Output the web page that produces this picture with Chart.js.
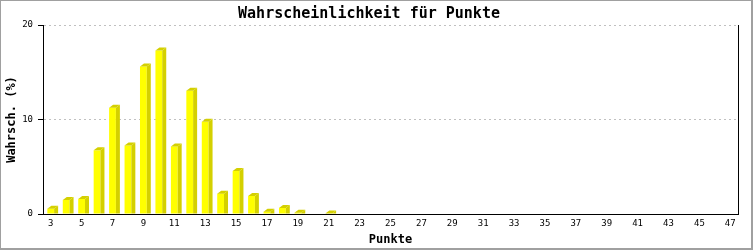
<!DOCTYPE html>
<html>
<head>
<meta charset="utf-8">
<script src="https://cdn.jsdelivr.net/npm/chart.js@4"></script>
<style>
  body { margin: 0; background: #fff; }
  canvas { display: block; }
</style>
</head>
<body>
<canvas id="pointsChart" width="753" height="250"></canvas>
<script>
// categories: points 3..47
var points = [3, 4, 5, 6, 7, 8, 9, 10, 11, 12, 13, 14, 15, 16, 17, 18, 19, 20, 21, 22, 23, 24, 25,
              26, 27, 28, 29, 30, 31, 32, 33, 34, 35, 36, 37, 38, 39, 40, 41, 42, 43, 44, 45, 46, 47];

// probability in percent
var probability = [0.56, 1.48, 1.59, 6.74, 11.24, 7.25, 15.6, 17.3, 7.15, 13.05, 9.75, 2.15, 4.56, 1.91,
                   0.25, 0.64, 0.13, 0, 0.05, 0, 0, 0, 0, 0, 0, 0, 0, 0, 0, 0, 0, 0, 0, 0, 0, 0, 0, 0,
                   0, 0, 0, 0, 0, 0, 0];

var yTicks = [0, 10, 20];

var monoFont = "'DejaVu Sans Mono', 'Liberation Mono', monospace";

// draws the darker side and top of every bar, plus frame and right border
var bars3d = {
    id: 'bars3d',
    beforeDraw: function (chart) {
        var c = chart.ctx;
        c.save();
        c.fillStyle = '#ffffff';
        c.fillRect(0, 0, chart.width, chart.height);
        c.restore();
    },
    afterDatasetsDraw: function (chart) {
        var c = chart.ctx;
        var meta = chart.getDatasetMeta(0);
        var dx = 4, dy = 3;
        c.save();
        c.fillStyle = '#d4d000';
        meta.data.forEach(function (bar, i) {
            if (!probability[i]) return;
            var p = bar.getProps(['x', 'y', 'base', 'width'], true);
            var l = p.x - p.width / 2, r = p.x + p.width / 2;
            // side
            c.beginPath();
            c.moveTo(r, p.base);
            c.lineTo(r, p.y);
            c.lineTo(r + dx, p.y - dy);
            c.lineTo(r + dx, p.base);
            c.closePath();
            c.fill();
            // top
            c.beginPath();
            c.moveTo(l, p.y);
            c.lineTo(l + dx, p.y - dy);
            c.lineTo(r + dx, p.y - dy);
            c.lineTo(r, p.y);
            c.closePath();
            c.fill();
        });
        c.restore();
    },
    afterDraw: function (chart) {
        var c = chart.ctx;
        var a = chart.chartArea;
        c.save();
        // right border of the plot
        c.strokeStyle = '#000';
        c.lineWidth = 1;
        c.beginPath();
        c.moveTo(Math.round(a.right) + 0.5, a.top);
        c.lineTo(Math.round(a.right) + 0.5, a.bottom);
        c.stroke();
        // outer gray frame
        c.fillStyle = '#a0a0a0';
        c.fillRect(0, 0, chart.width, 1);
        c.fillRect(0, 0, 1, chart.height);
        c.fillRect(chart.width - 2, 0, 2, chart.height);
        c.fillRect(0, chart.height - 2, chart.width, 2);
        c.restore();
    }
};

var ctx = document.getElementById('pointsChart').getContext('2d');
var pointsChart = new Chart(ctx, {
    type: 'bar',
    data: {
        labels: points,
        datasets: [{
            data: probability,
            backgroundColor: '#ffff00',
            borderWidth: 0,
            barPercentage: 0.44,
            categoryPercentage: 1
        }]
    },
    options: {
        responsive: false,
        animation: false,
        devicePixelRatio: 1,
        layout: {
            padding: { left: 0, right: 15, top: 0, bottom: 0 }
        },
        plugins: {
            legend: { display: false },
            tooltip: { enabled: false },
            title: {
                display: true,
                text: 'Wahrscheinlichkeit für Punkte',
                color: '#000',
                font: { family: monoFont, size: 15, weight: 'bold' },
                padding: { top: 5, bottom: 2 }
            }
        },
        scales: {
            x: {
                afterFit: function (scale) { scale.height = 36; },
                grid: { display: false, drawTicks: false },
                border: { display: true, color: '#000', width: 1 },
                ticks: {
                    autoSkip: false,
                    maxRotation: 0,
                    padding: 4,
                    color: '#000',
                    font: { family: monoFont, size: 9 },
                    callback: function (value, index) {
                        return index % 2 === 0 ? points[index] : '';
                    }
                },
                title: {
                    display: true,
                    text: 'Punkte',
                    color: '#000',
                    font: { family: monoFont, size: 12, weight: 'bold' },
                    padding: { top: 0, bottom: 3 }
                }
            },
            y: {
                min: yTicks[0],
                max: yTicks[yTicks.length - 1],
                afterFit: function (scale) { scale.width = 43; },
                afterBuildTicks: function (scale) {
                    scale.ticks = yTicks.map(function (v) { return { value: v }; });
                },
                grid: {
                    color: '#c0c0c0',
                    tickColor: '#000',
                    tickLength: 5
                },
                border: { display: true, color: '#000', width: 1, dash: [2, 3] },
                ticks: {
                    padding: 5,
                    color: '#000',
                    font: { family: monoFont, size: 9 }
                },
                title: {
                    display: true,
                    text: 'Wahrsch. (%)',
                    color: '#000',
                    font: { family: monoFont, size: 12, weight: 'bold' },
                    padding: { top: 5, bottom: 0 }
                }
            }
        }
    },
    plugins: [bars3d]
});
</script>
</body>
</html>
